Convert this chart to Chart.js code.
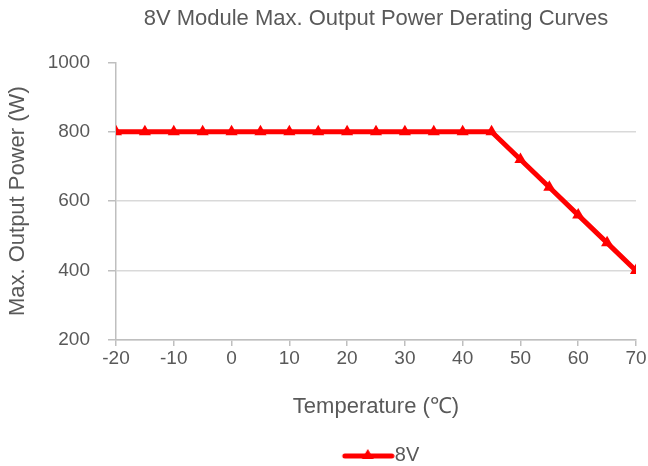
<!DOCTYPE html>
<html>
<head>
<meta charset="utf-8">
<script src="https://cdn.jsdelivr.net/npm/chart.js@4.4.1/dist/chart.umd.min.js"></script>
<style>
  html, body { margin: 0; padding: 0; background: #fff; }
  #wrap { width: 648px; height: 466px; position: relative; }
</style>
</head>
<body>
<div id="wrap"><canvas id="chart"></canvas></div>
<script>
const TEMPS = [-20, -15, -10, -5, 0, 5, 10, 15, 20, 25, 30, 35, 40, 45, 50, 55, 60, 65, 70]
const POWER_8V = [800, 800, 800, 800, 800, 800, 800, 800, 800, 800, 800, 800, 800, 800, 720, 640, 560, 480, 400]

const TEXT = "#595959"
const RED = "#ff0000"
const FONT = "'Liberation Sans', Arial, sans-serif"

// legend icon: thick line with a triangle in the middle, shifted right so it meets the label
const legendIcon = document.createElement("canvas")
legendIcon.width = 72
legendIcon.height = 16
{
  const c = legendIcon.getContext("2d")
  c.strokeStyle = RED
  c.lineWidth = 5
  c.lineCap = "round"
  c.beginPath(); c.moveTo(22, 9); c.lineTo(69, 9); c.stroke()
  c.fillStyle = RED
  c.beginPath(); c.moveTo(45, 2); c.lineTo(51, 12); c.lineTo(39, 12); c.closePath(); c.fill()
}

new Chart(document.getElementById("chart"), {
  type: "line",
  data: {
    datasets: [{
      label: "8V",
      data: TEMPS.map((t, i) => ({ x: t, y: POWER_8V[i] })),
      borderColor: RED,
      backgroundColor: RED,
      borderWidth: 5,
      pointStyle: "triangle",
      pointRadius: 7,
      pointBorderWidth: 0,
      fill: false,
    }],
  },
  options: {
    responsive: true,
    maintainAspectRatio: false,
    animation: false,
    layout: { padding: { left: 0, right: 12, top: 0, bottom: -9 } },
    scales: {
      x: {
        type: "linear",
        min: -20,
        max: 70,
        afterFit: (s) => { s.height = 103 },
        ticks: { stepSize: 10, color: TEXT, font: { family: FONT, size: 19 }, padding: 1 },
        grid: { drawOnChartArea: false, drawTicks: true, tickLength: 6, tickColor: "#bfbfbf", lineWidth: 1.5 },
        border: { color: "#bfbfbf", width: 1.5 },
        title: { display: true, text: "Temperature (℃)", color: TEXT, font: { family: FONT, size: 22 }, padding: { top: 0, bottom: 23 } },
      },
      y: {
        min: 200,
        max: 1000,
        afterFit: (s) => { s.width = 116 },
        ticks: { stepSize: 200, color: TEXT, font: { family: FONT, size: 19 }, padding: 18, callback: (v) => String(v) },
        grid: {
          color: (ctx) => (ctx.tick && ctx.tick.value === 1000 ? "rgba(0,0,0,0)" : "#d9d9d9"),
          lineWidth: 1.5,
          drawTicks: true,
          tickLength: 8,
          tickColor: "#bfbfbf",
        },
        border: { color: "#bfbfbf", width: 1.5 },
        title: { display: true, text: "Max. Output Power (W)", color: TEXT, font: { family: FONT, size: 22 }, padding: { top: 5, bottom: 0 } },
      },
    },
    plugins: {
      title: {
        display: true,
        fullSize: false,
        text: "8V Module Max. Output Power Derating Curves",
        color: TEXT,
        font: { family: FONT, size: 22, weight: "normal" },
        padding: { top: 6, bottom: 30 },
      },
      legend: {
        position: "bottom",
        fullSize: false,
        labels: {
          usePointStyle: true,
          pointStyleWidth: 52,
          color: TEXT,
          font: { family: FONT, size: 20, lineHeight: 1 },
          padding: 2,
          generateLabels: (chart) => chart.data.datasets.map((ds, i) => ({
            text: ds.label,
            pointStyle: legendIcon,
            fontColor: TEXT,
            hidden: false,
            datasetIndex: i,
          })),
        },
      },
      tooltip: { enabled: false },
    },
  },
})
</script>
</body>
</html>
